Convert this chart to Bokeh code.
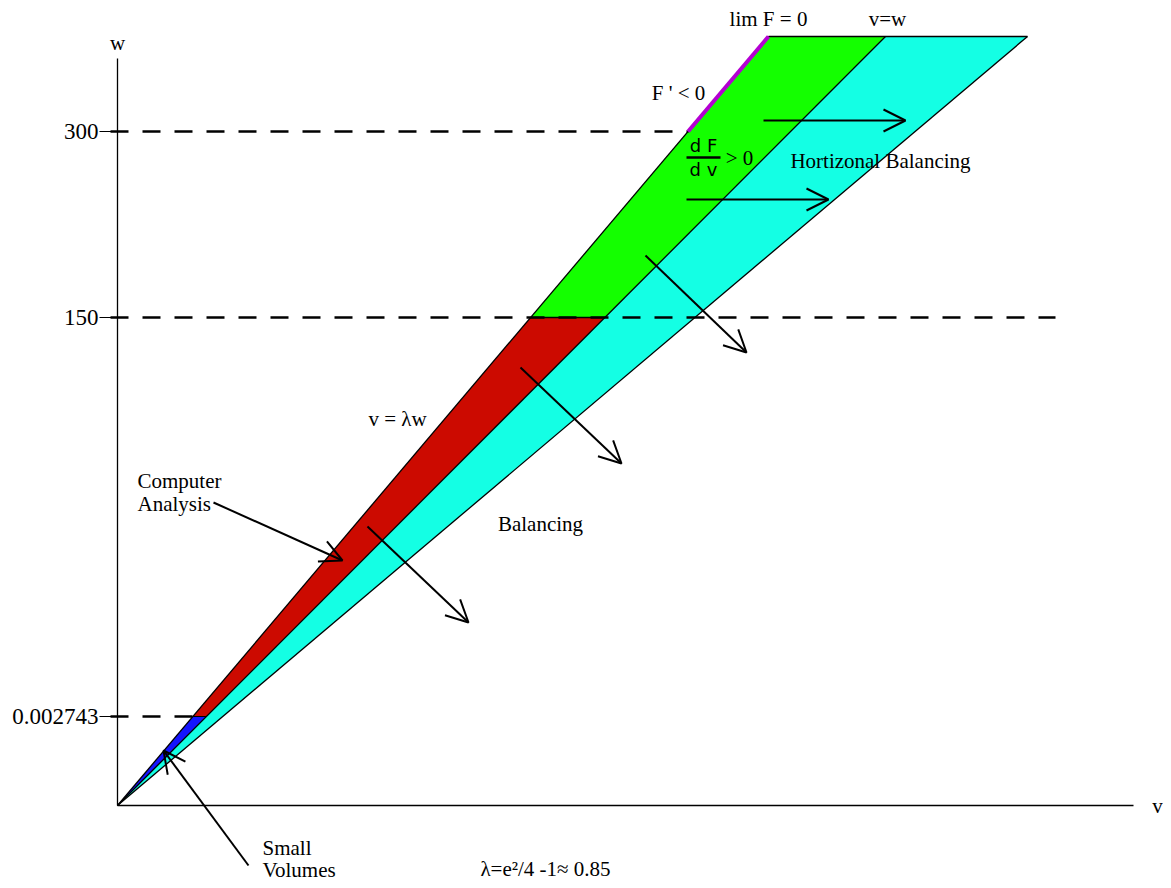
from bokeh.plotting import figure
from bokeh.models import Arrow, OpenHead, Range1d
from bokeh.core.properties import value
from bokeh.embed import file_html
from bokeh.resources import INLINE

# ---- diagram data (v-w plane, schematic units) ----
w_top = 769.0                     # top of the drawn region
v_top_lambda = 651.0              # v=lambda*w line at w_top
v_top_equal = 768.0               # v=w line at w_top
v_top_outer = 910.0               # outer (balancing) line at w_top
level_names = ["300", "150", "0.002743"]
level_pos = [674.0, 488.0, 89.0]  # schematic heights of the w levels
dash_ends = [571.0, 938.0, 83.0]

arrow_x0 = [646, 569, 528, 403, 250, 96, 131]
arrow_y0 = [685, 606, 550, 438, 279, 303, -60]
arrow_x1 = [788, 711, 629, 504, 351, 225, 46]
arrow_y1 = [685, 606, 453, 342, 183, 245, 55]

label_text = ["w", "v", "lim F = 0", "v=w", "F ' < 0", "> 0", "Hortizonal Balancing",
              "v = \u03bbw", "Balancing", "\u03bb=e\u00b2/4 -1\u2248 0.85"]
label_x = [0, 1040, 651, 770, 561, 622, 763, 280, 423, 428]
label_y = [763, 0, 787, 787, 713, 648, 645, 387, 282, -63]
left_text = ["Computer", "Analysis", "Small", "Volumes"]
left_x = [20, 20, 145, 145]
left_y = [325, 302, -42, -64]

def v_at(v_top, w):
    return v_top * w / w_top

w300, w150, wsm = level_pos

p = figure(width=1163, height=880, output_backend="svg", toolbar_location=None,
           x_range=Range1d(-117, 1046), y_range=Range1d(-75, 805),
           min_border=0, x_axis_type=None, y_axis_type=None)
p.grid.visible = False
p.outline_line_color = None

cyan = "#14FFE4"
green = "#14FF00"
red = "#CC0A00"
blue = "#1414FF"
magenta = "#B400D2"

# cyan band between v=w and outer line
p.patch([0, v_top_equal, v_top_outer], [0, w_top, w_top], fill_color=cyan, line_color=None)
# green: lambda..equal above 150
p.patch([v_at(v_top_lambda, w150), v_top_lambda, v_top_equal, v_at(v_top_equal, w150)],
        [w150, w_top, w_top, w150], fill_color=green, line_color=None)
# red: between small level and 150
p.patch([v_at(v_top_lambda, wsm), v_at(v_top_lambda, w150), v_at(v_top_equal, w150), v_at(v_top_equal, wsm)],
        [wsm, w150, w150, wsm], fill_color=red, line_color=None)
# blue: small volumes
p.patch([0, v_at(v_top_lambda, wsm), v_at(v_top_equal, wsm)], [0, wsm, wsm],
        fill_color=blue, line_color=None)

# dashed level lines
for lv, de in zip(level_pos, dash_ends):
    p.line([-7, de], [lv, lv], line_color="black", line_width=2.5, line_dash="18 14")

# boundary lines
for vt in [v_top_lambda, v_top_equal, v_top_outer]:
    p.line([0, vt], [0, w_top], line_color="black", line_width=1.3)
p.line([v_top_lambda, v_top_outer], [w_top, w_top], line_color="black", line_width=1.3)
p.line([v_at(v_top_lambda, w150), v_at(v_top_equal, w150)], [w150, w150], line_color="black", line_width=1.5)
p.line([v_at(v_top_lambda, wsm), v_at(v_top_equal, wsm)], [wsm, wsm], line_color="black", line_width=1.2)

# magenta F'<0 segment
p.line([v_at(v_top_lambda, w300), v_top_lambda], [w300, w_top], line_color=magenta, line_width=4)

# axes
p.line([0, 0], [0, 747], line_color="black", line_width=1.3)
p.line([0, 1016], [0, 0], line_color="black", line_width=1.3)
for lv in level_pos:
    p.line([-18, 0], [lv, lv], line_color="black", line_width=1)
p.text(x=[-19] * 3, y=level_pos, text=level_names,
       text_font=value("Liberation Serif"), text_font_size="23px",
       text_align="right", text_baseline="middle", text_color="black")

# arrows
for x0, y0, x1, y1 in zip(arrow_x0, arrow_y0, arrow_x1, arrow_y1):
    p.add_layout(Arrow(end=OpenHead(size=22, line_width=2, line_color="black"),
                       x_start=x0, y_start=y0, x_end=x1, y_end=y1,
                       line_width=2, line_color="black"))

# labels
p.text(x=label_x, y=label_y, text=label_text, text_font=value("Liberation Serif"),
       text_font_size="21px", text_align="center", text_baseline="middle", text_color="black")
p.text(x=left_x, y=left_y, text=left_text, text_font=value("Liberation Serif"),
       text_font_size="21px", text_align="left", text_baseline="middle", text_color="black")

# dF/dv fraction
p.text(x=[586, 586], y=[660, 636], text=["d F", "d v"], text_font=value("DejaVu Sans"),
       text_font_size="18px", text_align="center", text_baseline="middle", text_color="black")
p.line([569, 603], [648, 648], line_color="black", line_width=2.5)

open("out.html", "w").write(file_html(p, INLINE))
